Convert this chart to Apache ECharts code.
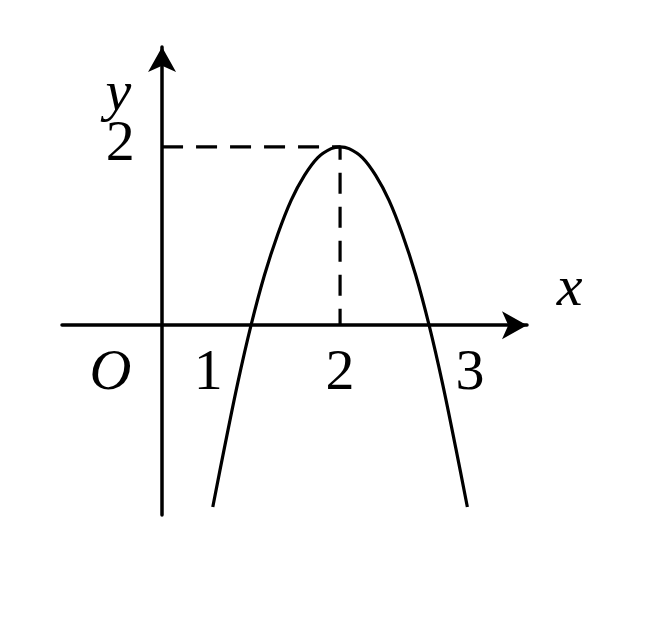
<!DOCTYPE html>
<html>
<head>
<meta charset="utf-8">
<script src="https://cdn.jsdelivr.net/npm/echarts@6/dist/echarts.min.js"></script>
<style>
html,body{margin:0;padding:0;background:#fff;}
#chart{width:672px;height:622px;}
</style>
</head>
<body>
<div id="chart"></div>
<script>
// Parabola points (vertex at (2,2), roots at 1 and 3)
const curveX = [0.57, 0.7, 0.85, 1.0, 1.15, 1.3, 1.45, 1.6, 1.75, 1.9, 2.0, 2.1, 2.25, 2.4, 2.55, 2.7, 2.85, 3.0, 3.15, 3.3, 3.43];
const curveY = [-2.04, -1.38, -0.65, 0.0, 0.56, 1.02, 1.40, 1.68, 1.88, 1.98, 2.0, 1.98, 1.88, 1.68, 1.40, 1.02, 0.56, 0.0, -0.65, -1.38, -2.04];

// Dashed guide lines through the vertex
const guideX = [0, 2, 2];
const guideY = [2, 2, 0];

// Text labels and where they sit (in data units)
const labelText = ['O', '1', '2', '3', 'x', 'y', '2'];
const labelX = [-0.58, 0.52, 2.0, 3.46, 4.58, -0.49, -0.47];
const labelY = [-0.55, -0.55, -0.55, -0.55, 0.4, 2.58, 2.02];
const labelItalic = [true, false, false, false, true, true, false];

const axisRangeX = [-1.124, 4.1];
const axisRangeY = [-2.13, 3.12];

const chart = echarts.init(document.getElementById('chart'), null, {renderer: 'canvas'});

const FONT = "'Liberation Serif', 'DejaVu Serif', serif";

const option = {
  backgroundColor: '#ffffff',
  animation: false,
  grid: {left: 62, top: 47, width: 465, height: 468, containLabel: false},
  xAxis: {
    type: 'value',
    min: axisRangeX[0], max: axisRangeX[1],
    axisLine: {
      show: true, onZero: true,
      symbol: ['none', 'arrow'], symbolSize: [21, 25],
      lineStyle: {color: '#000', width: 3.5}
    },
    axisTick: {show: false},
    axisLabel: {show: false},
    splitLine: {show: false}
  },
  yAxis: {
    type: 'value',
    min: axisRangeY[0], max: axisRangeY[1],
    axisLine: {
      show: true, onZero: true,
      symbol: ['none', 'arrow'], symbolSize: [21, 25],
      lineStyle: {color: '#000', width: 3.5}
    },
    axisTick: {show: false},
    axisLabel: {show: false},
    splitLine: {show: false}
  },
  series: [
    {
      type: 'line',
      data: guideX.map((x, i) => [x, guideY[i]]),
      showSymbol: false,
      symbol: 'none',
      lineStyle: {color: '#000', width: 3.2, type: [21, 13]},
      z: 2
    },
    {
      type: 'line',
      data: curveX.map((x, i) => [x, curveY[i]]),
      smooth: 0.35,
      showSymbol: false,
      symbol: 'none',
      lineStyle: {color: '#000', width: 3.2},
      z: 3
    },
    {
      type: 'scatter',
      clip: false,
      symbolSize: 0,
      itemStyle: {color: '#000', opacity: 1},
      data: labelText.map((t, i) => ({
        value: [labelX[i], labelY[i]],
        label: {
          show: true,
          formatter: t,
          position: 'inside',
          fontFamily: FONT,
          fontStyle: labelItalic[i] ? 'italic' : 'normal',
          fontSize: 58,
          color: '#000',
          opacity: 1,
          textBorderWidth: 0
        }
      })),
      z: 4
    }
  ]
};
chart.setOption(option);
</script>
</body>
</html>
